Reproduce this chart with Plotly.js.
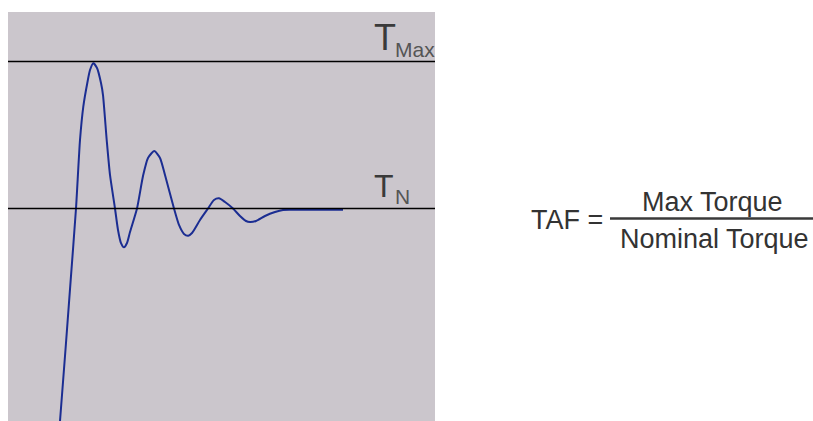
<!DOCTYPE html>
<html>
<head>
<meta charset="utf-8">
<script src="https://cdn.plot.ly/plotly-3.0.1.min.js"></script>
<style>html,body{margin:0;padding:0;background:#fff;}#chart{width:813px;height:421px;}</style>
</head>
<body>
<div id="chart"></div>
<script>
// time (arbitrary units) and torque (relative to nominal torque = 1)
const timeValues = [0.515, 0.52, 0.627, 0.68, 0.72, 0.753, 0.793, 0.82, 0.853, 0.89, 0.93, 0.95, 0.987, 1.02, 1.07, 1.10, 1.13, 1.16, 1.19, 1.22, 1.29, 1.35, 1.40, 1.463, 1.52, 1.57, 1.66, 1.71, 1.76, 1.803, 1.84, 1.92, 2.0, 2.06, 2.11, 2.17, 2.25, 2.32, 2.38, 2.42, 2.48, 2.57, 2.67, 2.75, 2.87, 3.35];
const torqueValues = [-0.473, -0.446, 0.514, 1.0, 1.466, 1.693, 1.854, 1.942, 1.988, 1.956, 1.854, 1.772, 1.466, 1.228, 1.0, 0.854, 0.765, 0.736, 0.765, 0.840, 1.0, 1.221, 1.344, 1.391, 1.344, 1.228, 1.0, 0.888, 0.827, 0.815, 0.833, 0.922, 1.0, 1.058, 1.069, 1.044, 1.0, 0.949, 0.915, 0.908, 0.915, 0.949, 0.976, 0.990, 0.991, 0.991];
const nominalTorque = 1.0;
const maxTorque = 2.0;
const labels = {max: ["T", "Max"], nominal: ["T", "N"]};
const equation = {lhs: "TAF =", numerator: "Max Torque", denominator: "Nominal Torque"};

// pixel helpers for text placement (plot area spans x 8..435, y 12..421)
const px = v => (v - 8) / 427;
const py = v => (421 - v) / 409;
const FONT = "Liberation Sans, Arial, sans-serif";

const traces = [{
  x: timeValues, y: torqueValues, type: "scatter", mode: "lines",
  line: {color: "#1b2d92", width: 2, shape: "spline", smoothing: 0.6}, hoverinfo: "skip"
}];

function lbl(text, x, y, size, color) {
  return {xref: "paper", yref: "paper", x: px(x), y: py(y), text: text, showarrow: false,
          xanchor: "center", yanchor: "middle", font: {family: FONT, size: size, color: color}};
}

const layout = {
  width: 813, height: 421,
  margin: {l: 8, r: 378, t: 12, b: 0, pad: 0},
  paper_bgcolor: "#ffffff",
  plot_bgcolor: "#cbc6cc",
  showlegend: false,
  xaxis: {range: [0, 4.27], visible: false, showgrid: false, zeroline: false, fixedrange: true},
  yaxis: {range: [-0.4456, 2.3367], visible: false, showgrid: false, zeroline: false, fixedrange: true},
  shapes: [
    {type: "line", xref: "paper", yref: "y", x0: 0, x1: 1, y0: maxTorque, y1: maxTorque, line: {color: "#000", width: 1.4}},
    {type: "line", xref: "paper", yref: "y", x0: 0, x1: 1, y0: nominalTorque, y1: nominalTorque, line: {color: "#000", width: 1.4}},
    {type: "line", xref: "paper", yref: "paper", x0: px(610), x1: px(813), y0: py(218.5), y1: py(218.5), line: {color: "#3a3a3a", width: 2.5}}
  ],
  annotations: [
    lbl(labels.max[0], 385, 38, 36, "#3a3a3a"),
    lbl(labels.max[1], 415, 49.5, 21, "#555555"),
    lbl(labels.nominal[0], 384, 185.5, 32, "#3a3a3a"),
    lbl(labels.nominal[1], 402, 196.5, 21, "#555555"),
    lbl(equation.lhs, 567, 220, 27, "#333333"),
    lbl(equation.numerator, 712, 202, 27, "#333333"),
    lbl(equation.denominator, 714.5, 238.5, 27, "#333333")
  ]
};
Plotly.newPlot("chart", traces, layout, {displayModeBar: false, staticPlot: true});
</script>
</body>
</html>
